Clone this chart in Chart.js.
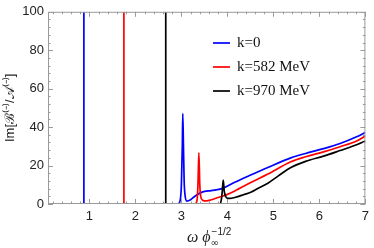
<!DOCTYPE html>
<html>
<head>
<meta charset="utf-8">
<script src="https://cdn.jsdelivr.net/npm/chart.js@4.4.1/dist/chart.umd.min.js"></script>
<style>
  html, body { margin: 0; padding: 0; background: #fff; }
  #wrap { width: 374px; height: 248px; }
</style>
</head>
<body>
<div id="wrap"><canvas id="chart" width="374" height="248"></canvas></div>
<script>
// series values
const labels = ['k=0', 'k=582 MeV', 'k=970 MeV'];
const colors = ['#0000ff', '#ff0000', '#000000'];
const poleX = [0.88, 1.75, 2.66];

const blueX = [0.1, 2.92, 2.97, 3.0, 3.02, 3.03, 3.045, 3.06, 3.08, 3.12, 3.2, 3.3, 3.45, 3.65, 3.88, 4.16, 4.52, 4.88, 5.38, 5.7, 6.09, 6.45, 6.81, 7];
const blueY = [0, 0, 1.5, 10, 30, 47, 30, 12, 4.5, 1.5, 2.2, 4.2, 6.2, 7, 8, 11.3, 15.2, 19, 24, 26.3, 28.8, 31.5, 35, 37.2];

const redX = [0.1, 3.3, 3.34, 3.36, 3.38, 3.4, 3.42, 3.46, 3.55, 3.65, 3.8, 4.0, 4.16, 4.52, 4.88, 5.38, 5.7, 6.09, 6.45, 6.81, 7];
const redY = [0, 0, 2, 10, 26.6, 10, 4, 2, 1.6, 2.2, 3.4, 5, 6.8, 11.3, 15.6, 22, 24.6, 27.1, 29.8, 32.8, 35.4];

const blackX = [0.1, 3.84, 3.87, 3.89, 3.91, 3.93, 3.96, 4.0, 4.06, 4.16, 4.35, 4.52, 4.66, 4.88, 5.1, 5.38, 5.7, 6.09, 6.45, 6.81, 7];
const blackY = [0, 0, 2.5, 7, 12.5, 7, 4, 3, 2.9, 3.4, 4.8, 6.2, 8, 10.8, 14.5, 19, 22.2, 24.9, 27.8, 30.8, 32.8];

const xTicks = [1, 2, 3, 4, 5, 6, 7];
const yTicks = [0, 20, 40, 60, 80, 100];

const toPoints = (xs, ys) => xs.map((x, i) => ({ x: x, y: ys[i] }));
const curves = [toPoints(blueX, blueY), toPoints(redX, redY), toPoints(blackX, blackY)];

const datasets = [];
curves.forEach((pts, i) => {
    datasets.push({
        data: pts,
        borderColor: colors[i],
        borderWidth: 1.7,
        pointRadius: 0,
        cubicInterpolationMode: 'monotone',
        order: 2 - i,
    });
    datasets.push({
        data: [{ x: poleX[i], y: 0 }, { x: poleX[i], y: 100 }],
        borderColor: colors[i],
        borderWidth: 1.7,
        pointRadius: 0,
        order: 2 - i,
    });
});

// frame, inward ticks, titles and legend
const decor = {
    id: 'decor',
    afterDraw(chart) {
        const ctx = chart.ctx;
        const a = chart.chartArea;
        const xs = chart.scales.x, ys = chart.scales.y;
        ctx.save();
        ctx.strokeStyle = '#9a9a9a';
        ctx.lineWidth = 1;
        ctx.strokeRect(a.left + 0.5, a.top + 0.5, a.right - a.left - 1, a.bottom - a.top - 1);

        ctx.beginPath();
        for (let v = 0.2; v <= 7.001; v += 0.2) {
            const px = Math.round(xs.getPixelForValue(v)) + 0.5;
            const major = Math.abs(v - Math.round(v)) < 0.01;
            const len = major ? 5 : 2.5;
            ctx.moveTo(px, a.bottom); ctx.lineTo(px, a.bottom - len);
            ctx.moveTo(px, a.top); ctx.lineTo(px, a.top + len);
        }
        for (let v = 0; v <= 100; v += 4) {
            const py = Math.round(ys.getPixelForValue(v)) + 0.5;
            const len = v % 20 === 0 ? 5 : 2.5;
            ctx.moveTo(a.left, py); ctx.lineTo(a.left + len, py);
            ctx.moveTo(a.right, py); ctx.lineTo(a.right - len, py);
        }
        ctx.stroke();

        // y title
        ctx.fillStyle = '#222';
        ctx.translate(10, (a.top + a.bottom) / 2);
        ctx.rotate(-Math.PI / 2);
        ctx.textAlign = 'center';
        ctx.textBaseline = 'middle';
        ctx.font = '13px "Liberation Sans", Arial, sans-serif';
        ctx.fillText('Im[\u212C\u207D\u207B\u207E/\uD835\uDC9C\u207D\u207B\u207E]', 0, 0);
        ctx.setTransform(1, 0, 0, 1, 0, 0);

        // x title
        ctx.textAlign = 'left';
        ctx.textBaseline = 'alphabetic';
        let x0 = 187, yb = 242;
        ctx.font = 'italic 16px "Liberation Serif", serif';
        ctx.fillText('\u03C9 \u03D5', x0, yb);
        let w = ctx.measureText('\u03C9 \u03D5').width;
        ctx.font = '10px "Liberation Sans", sans-serif';
        ctx.fillText('\u2212' + '1/2', x0 + w + 1, yb - 7);
        ctx.font = '10px "DejaVu Sans", sans-serif';
        ctx.fillText('\u221E', x0 + w, yb + 4);

        // legend
        ctx.font = '15px "Liberation Serif", serif';
        ctx.textBaseline = 'middle';
        labels.forEach((lab, i) => {
            const yy = 43 + i * 24;
            ctx.strokeStyle = colors[i];
            ctx.lineWidth = 1.7;
            ctx.beginPath();
            ctx.moveTo(213, yy); ctx.lineTo(230, yy);
            ctx.stroke();
            ctx.fillStyle = '#111';
            ctx.fillText(lab, 237, yy);
        });
        ctx.restore();
    }
};

const tickFont = { size: 13, family: '"Liberation Sans", Arial, sans-serif' };

new Chart(document.getElementById('chart'), {
    type: 'line',
    data: { datasets: datasets },
    options: {
        responsive: false,
        animation: false,
        events: [],
        layout: { padding: { top: 7, right: 5, left: 0, bottom: 0 } },
        plugins: { legend: { display: false }, tooltip: { enabled: false } },
        scales: {
            x: {
                type: 'linear',
                min: 0.1,
                max: 7,
                afterBuildTicks: s => { s.ticks = xTicks.map(v => ({ value: v })); },
                afterFit: s => { s.height = 44; },
                grid: { display: false, drawTicks: false },
                border: { display: false },
                ticks: { color: '#222', font: tickFont, padding: 5, maxRotation: 0 },
            },
            y: {
                min: 0,
                max: 100,
                afterBuildTicks: s => { s.ticks = yTicks.map(v => ({ value: v })); },
                afterFit: s => { s.width = 48; },
                grid: { display: false, drawTicks: false },
                border: { display: false },
                ticks: { color: '#222', font: tickFont, padding: 4 },
            },
        },
    },
    plugins: [decor],
});
</script>
</body>
</html>
